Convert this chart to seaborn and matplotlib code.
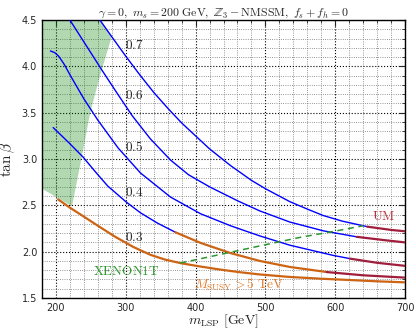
import numpy as np
import pandas as pd
import matplotlib
matplotlib.use('Agg')
import matplotlib.pyplot as plt
import seaborn as sns
from matplotlib.ticker import MultipleLocator

# ---- data ----
levels = ['0.7', '0.6', '0.5', '0.4', '0.3']

x_07 = [263, 280, 300, 320, 340, 360, 380, 400, 420, 450, 480, 500, 535, 560, 583, 610, 646, 680, 700]
y_07 = [4.50, 4.32, 4.11, 3.91, 3.72, 3.55, 3.39, 3.25, 3.11, 2.93, 2.77, 2.68, 2.54, 2.46, 2.39, 2.33, 2.27, 2.235, 2.22]

x_06 = [220, 240, 265, 285, 309, 335, 364, 390, 420, 460, 492, 535, 583, 631, 670, 700]
y_06 = [4.50, 4.265, 3.97, 3.74, 3.47, 3.22, 2.99, 2.83, 2.70, 2.55, 2.44, 2.32, 2.225, 2.16, 2.125, 2.10]

x_05 = [192, 198, 204, 212, 220, 240, 260, 289, 321, 364, 407, 450, 492, 535, 597, 621, 660, 700]
y_05 = [4.167, 4.15, 4.11, 4.02, 3.91, 3.65, 3.42, 3.12, 2.85, 2.59, 2.41, 2.28, 2.17, 2.07, 1.96, 1.925, 1.88, 1.847]

x_04 = [196, 218, 239, 255, 274, 300, 321, 345, 371, 407, 450, 492, 535, 588, 640, 700]
y_04 = [3.34, 3.18, 3.02, 2.875, 2.71, 2.54, 2.42, 2.31, 2.21, 2.095, 1.985, 1.90, 1.835, 1.78, 1.745, 1.72]

x_03 = [203, 220, 240, 260, 285, 311, 335, 356, 378, 405, 435, 465, 492, 535, 580, 621, 660, 700]
y_03 = [2.565, 2.475, 2.378, 2.28, 2.16, 2.05, 1.967, 1.915, 1.877, 1.842, 1.807, 1.777, 1.754, 1.727, 1.708, 1.694, 1.68, 1.669]

# XENON1T bound
x_xenon = [378, 420, 460, 500, 550, 600, 640]
y_xenon = [1.877, 1.945, 2.01, 2.075, 2.155, 2.222, 2.28]

# excluded (green) region
x_green = [180, 263, 280, 279, 263.5, 249, 239, 223, 180]
y_green = [4.5, 4.5, 4.32, 4.30, 3.909, 3.5, 3.102, 2.489, 2.68]

# label positions for the contour levels
label_x = [312, 312, 312, 312, 312]
label_y = [4.231, 3.683, 3.134, 2.640, 2.156]

# ---- styling ----
BLUE = '#0000ff'
ORANGE = '#cc6414'
RED = '#a01e3c'
GREEN = '#2f962f'

sns.set_style('white')
plt.rcParams['font.family'] = ['DejaVu Sans']
plt.rcParams['mathtext.fontset'] = 'cm'

fig = plt.figure(figsize=(4.16, 3.30), dpi=100)
ax = fig.add_axes([0.101, 0.097, 0.8726, 0.842])

ax.set_xlim(180, 700)
ax.set_ylim(1.5, 4.5)
ax.xaxis.set_major_locator(MultipleLocator(100))
ax.xaxis.set_minor_locator(MultipleLocator(20))
ax.yaxis.set_major_locator(MultipleLocator(0.5))
ax.yaxis.set_minor_locator(MultipleLocator(0.1))
ax.grid(which='major', color='k', linestyle=':', linewidth=0.8, zorder=0)
ax.grid(which='minor', color='0.45', linestyle=':', linewidth=0.6, zorder=0)
ax.set_axisbelow(True)

ax.fill(x_green, y_green, color='green', alpha=0.3, lw=0, zorder=1)


def draw(xs, ys, pieces, lw_map):
    # pieces: list of (start_index, end_index, color)
    for i0, i1, c in pieces:
        df = pd.DataFrame({'x': xs[i0:i1 + 1], 'y': ys[i0:i1 + 1]})
        sns.lineplot(data=df, x='x', y='y', ax=ax, color=c, lw=lw_map[c],
                     sort=False, estimator=None, zorder=3)


lw_map = {BLUE: 1.0, ORANGE: 1.6, RED: 1.6}
draw(x_07, y_07, [(0, 16, BLUE), (16, len(x_07) - 1, RED)], lw_map)
draw(x_06, y_06, [(0, 13, BLUE), (13, len(x_06) - 1, RED)], lw_map)
draw(x_05, y_05, [(0, 15, BLUE), (15, len(x_05) - 1, RED)], lw_map)
draw(x_04, y_04, [(0, 8, BLUE), (8, 13, ORANGE), (13, len(x_04) - 1, RED)], lw_map)
draw(x_03, y_03, [(0, len(x_03) - 1, ORANGE)], lw_map)

sns.lineplot(x=x_xenon, y=y_xenon, ax=ax, color=GREEN, lw=1.1, sort=False,
             estimator=None, zorder=3, linestyle=(0, (4, 3)))

for lab, lx, ly in zip(levels, label_x, label_y):
    ax.text(lx, ly, '$' + lab + '$', fontsize=9.5, ha='center', va='center', zorder=4)

ax.text(300, 1.79, r'$\rm XENON1T$', color=GREEN, fontsize=9.5, ha='center', va='center')
ax.text(398, 1.64, r'$M_{\rm SUSY}>5\ {\rm TeV}$', color='#e07a28', fontsize=9.5,
        ha='left', va='center')
ax.text(670, 2.38, r'$\rm UM$', color='#b8303f', fontsize=9.5, ha='center', va='center')

ax.set_title(r'$\gamma=0,\ m_s=200\ {\rm GeV},\ \mathbb{Z}_3-{\rm NMSSM},\ f_s+f_h=0$',
             fontsize=8.5, pad=3)
ax.set_xlabel(r'$m_{\rm LSP}\ [{\rm GeV}]$', fontsize=10, labelpad=0)
ax.set_ylabel(r'$\tan\beta$', fontsize=11, labelpad=3)

ax.tick_params(which='both', direction='in', top=True, right=True, labelsize=7)
ax.tick_params(which='major', length=4, width=0.8)
ax.tick_params(which='minor', length=2, width=0.6)
for s in ax.spines.values():
    s.set_color('k')
    s.set_linewidth(1.0)

fig.savefig('out.png', dpi=100)
